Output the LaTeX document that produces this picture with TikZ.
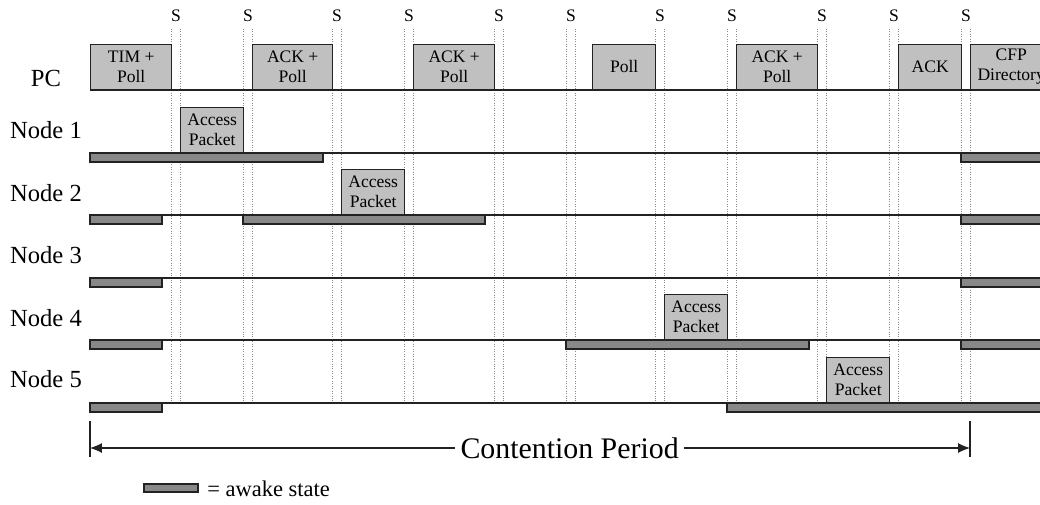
\documentclass[tikz,border=0pt]{standalone}
\usepackage{fontspec}
\setmainfont{Liberation Serif}
\usetikzlibrary{arrows.meta,positioning}
\definecolor{tdFrame}{HTML}{C0C0C0}
\definecolor{tdAwake}{HTML}{888888}
\definecolor{tdLine}{HTML}{222222}
\definecolor{tdGuard}{HTML}{8A8A8A}
\tikzset{
    tdBoxBase/.style={
        rectangle,
        draw=tdLine,
        fill=tdFrame,
        line width=0.8pt,
        inner sep=0pt,
        minimum height=0.9cm,
        anchor=south west,
        align=center,
        font=\fontsize{10}{11.5}\selectfont
    },
    % Frame variants
    pcFrame/.style={tdBoxBase, minimum width=1.62cm},
    pcShort/.style={tdBoxBase, minimum width=1.26cm},
    accessFrame/.style={tdBoxBase, minimum width=1.26cm},
    % Lines and bars
    awakeBar/.style={draw=tdLine, fill=tdAwake, line width=0.8pt},
    timeLine/.style={draw=tdLine, line width=0.6pt},
    guardLine/.style={draw=tdGuard, densely dotted, line width=0.4pt},
    periodArrow/.style={<->, >={Latex[length=2.4mm,width=2mm]}, draw=tdLine, line width=0.6pt},
    % Labels
    slotLabel/.style={font=\fontsize{10}{12}\selectfont, inner sep=0pt},
    rowLabel/.style={font=\fontsize{14}{16}\selectfont, inner sep=0pt}
}

\begin{document}
\begin{tikzpicture}[x=0.02cm, y=-0.02cm]
    \useasboundingbox (0,0) rectangle (1040,504);

    % guard slots
    \foreach \sx in {171,243,332,404,494,566,655,727,817,889,961} {
        \draw[guardLine] (\sx,29) -- (\sx,404);
        \draw[guardLine] (\sx+9,29) -- (\sx+9,404);
        \node[slotLabel] (s\sx) at (\sx+5,16) {S};
    }

    % rows
    \node[rowLabel] (pc) at (46,78) {PC};
    \node[rowLabel] (node1) at (46,130) {Node 1};
    \node[rowLabel] (node2) at (46,193) {Node 2};
    \node[rowLabel] (node3) at (46,255) {Node 3};
    \node[rowLabel] (node4) at (46,318) {Node 4};
    \node[rowLabel] (node5) at (46,379) {Node 5};

    \foreach \ry/\rn in {90/pc,153/n1,215/n2,278/n3,340/n4,403/n5} {
        \coordinate (\rn Start) at (90,\ry);
        \coordinate (\rn End) at (1045,\ry);
        \draw[timeLine] (\rn Start) -- (\rn End);
    }

    % awake states
    \draw[awakeBar] (90,153) rectangle (323,162);
    \draw[awakeBar] (961,153) rectangle (1045,162);
    \draw[awakeBar] (90,215) rectangle (162,224);
    \draw[awakeBar] (243,215) rectangle (485,224);
    \draw[awakeBar] (961,215) rectangle (1045,224);
    \draw[awakeBar] (90,278) rectangle (162,287);
    \draw[awakeBar] (961,278) rectangle (1045,287);
    \draw[awakeBar] (90,340) rectangle (162,349);
    \draw[awakeBar] (566,340) rectangle (809,349);
    \draw[awakeBar] (961,340) rectangle (1045,349);
    \draw[awakeBar] (90,403) rectangle (162,412);
    \draw[awakeBar] (727,403) rectangle (1045,412);

    % PC frames
    \node[pcFrame] (timPoll) at (90,90) {TIM +\\Poll};
    \node[pcFrame, minimum width=1.6cm] (ackPollA) at (252,90) {ACK +\\Poll};
    \node[pcFrame] (ackPollB) at (413,90) {ACK +\\Poll};
    \node[pcShort] (poll) at (592,90) {Poll};
    \node[pcFrame] (ackPollC) at (736,90) {ACK +\\Poll};
    \node[pcShort] (ack) at (898,90) {ACK};
    \node[pcFrame] (cfpDir) at (970,90) {CFP\\Directory};

    % node frames
    \node[accessFrame] (accessA) at (180,153) {Access\\Packet};
    \node[accessFrame] (accessB) at (341,215) {Access\\Packet};
    \node[accessFrame] (accessD) at (664,340) {Access\\Packet};
    \node[accessFrame] (accessE) at (826,403) {Access\\Packet};

    % contention period
    \coordinate (cpStart) at (90,448);
    \coordinate (cpEnd) at (970,448);
    \draw[timeLine] ([yshift=0.54cm]cpStart) -- ([yshift=-0.18cm]cpStart);
    \draw[timeLine] ([yshift=0.54cm]cpEnd) -- ([yshift=-0.18cm]cpEnd);
    \draw[periodArrow] (cpStart) -- node[pos=0.545, fill=white, inner sep=3pt, font=\fontsize{17}{19}\selectfont] (cpLabel) {Contention Period} (cpEnd);

    % legend
    \draw[awakeBar] (144,484) rectangle (198,492);
    \node[anchor=base west, inner sep=0pt, font=\fontsize{12.8}{14}\selectfont] (awakeKey) at (207,496) {= awake state};
\end{tikzpicture}
\end{document}
